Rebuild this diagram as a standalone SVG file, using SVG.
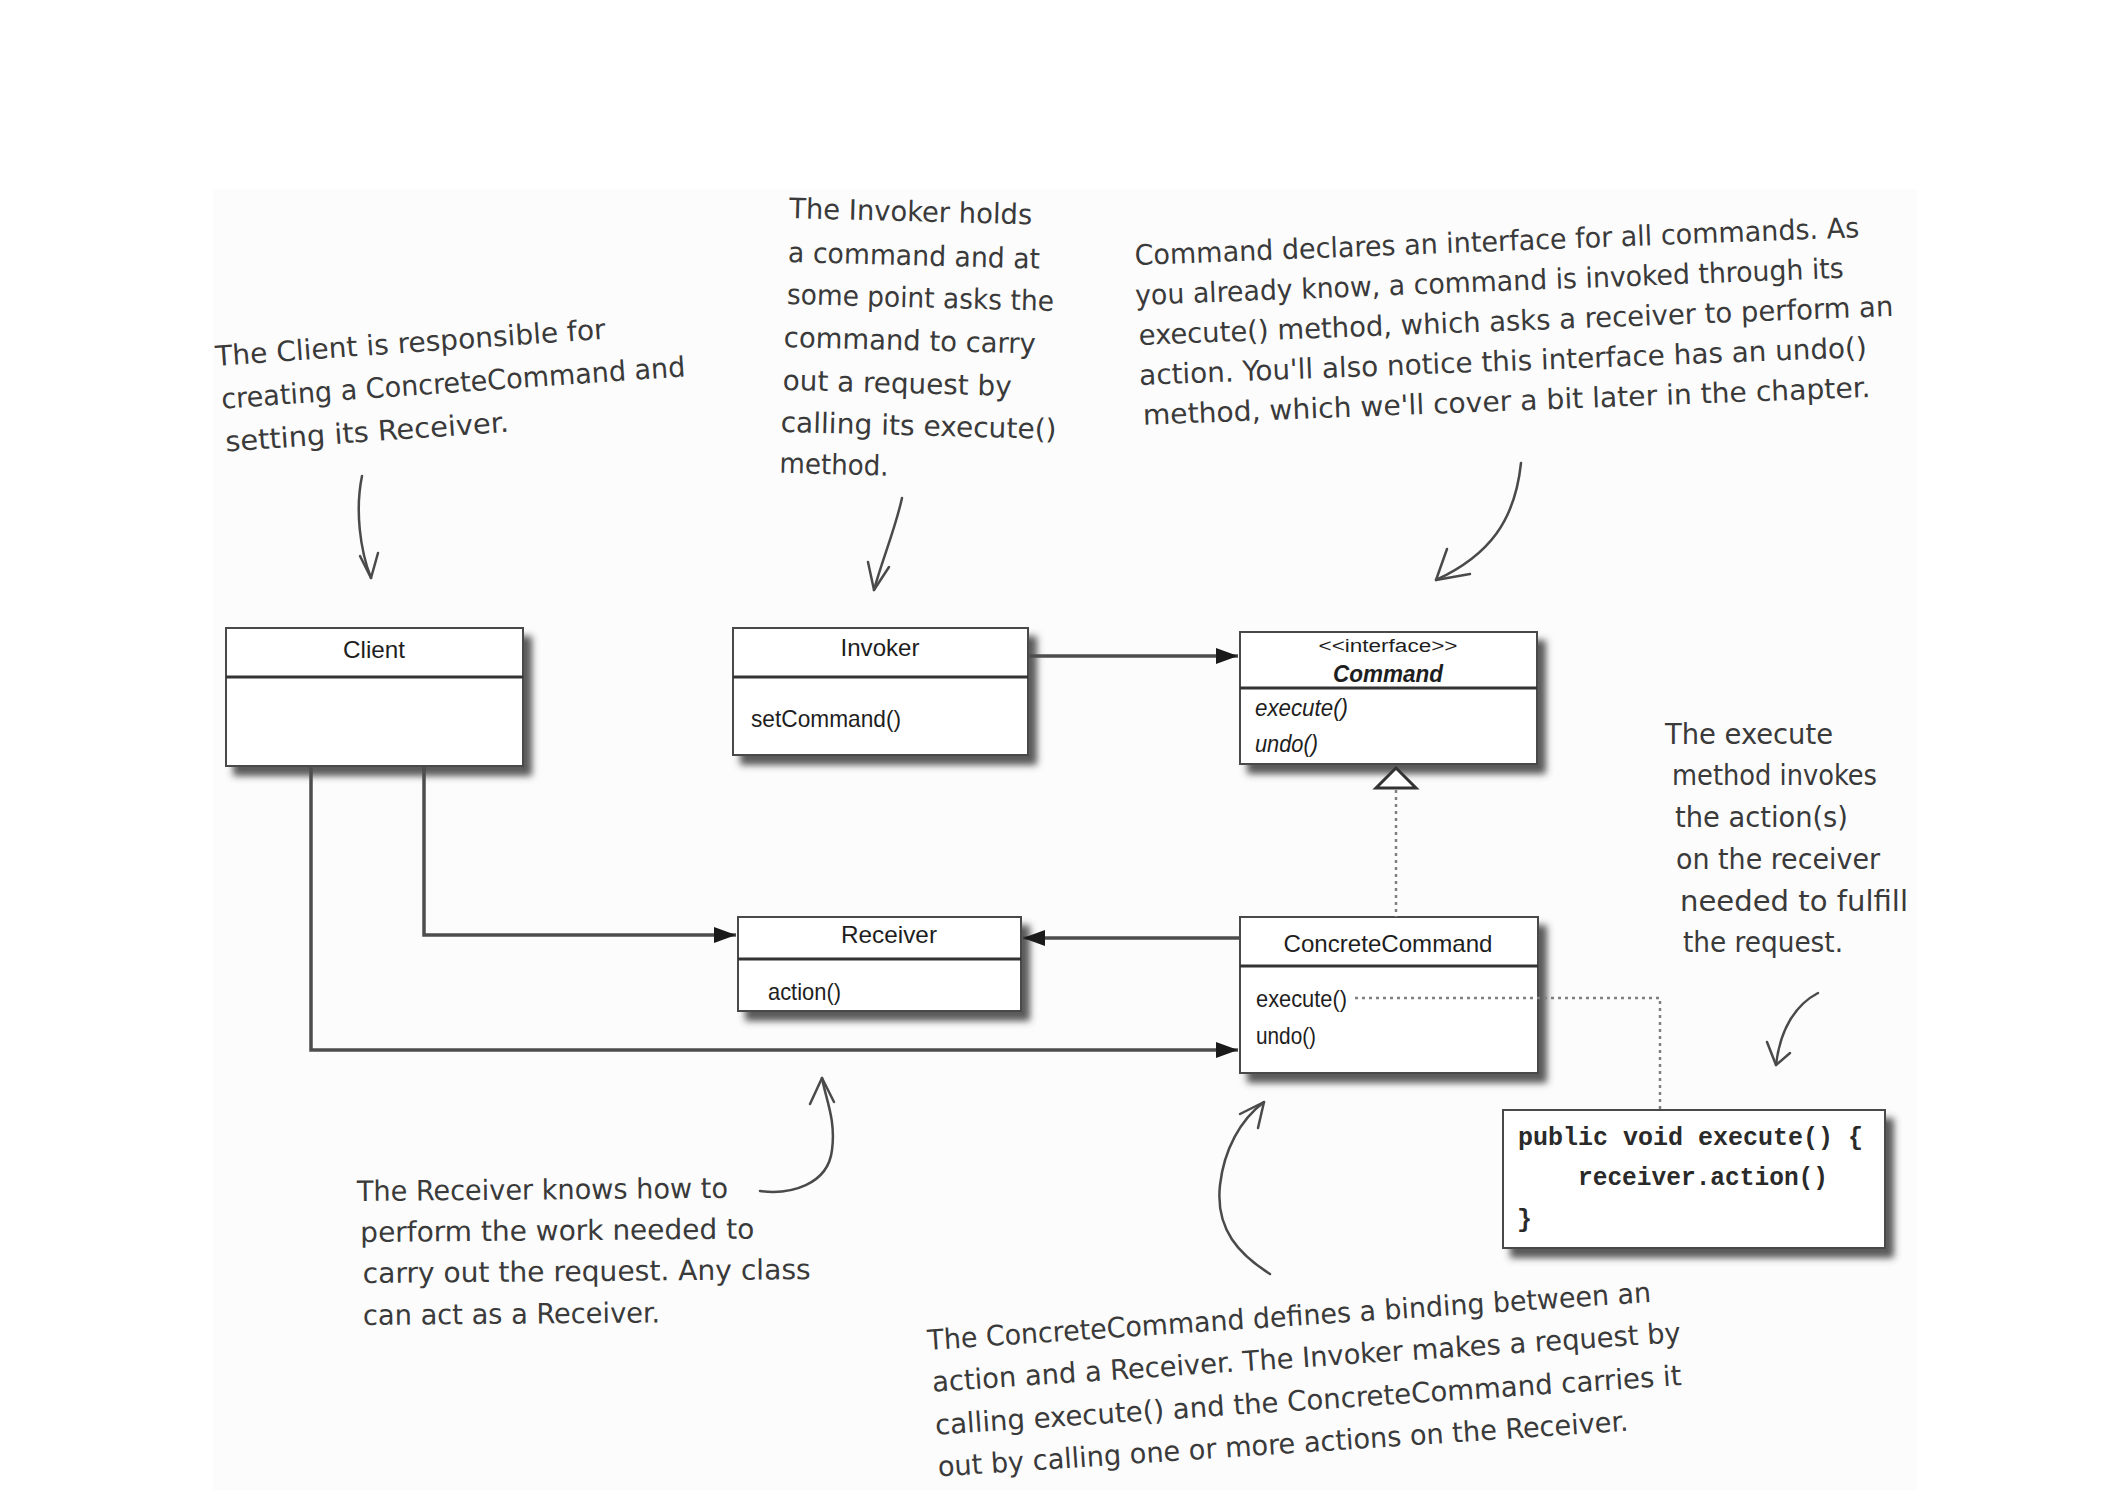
<svg xmlns="http://www.w3.org/2000/svg" width="2114" height="1490" viewBox="0 0 2114 1490">
  <defs>
    <style>
      .frame { fill: #ffffff; stroke: #4a4a4a; stroke-width: 2; }
      .divider { stroke: #333333; stroke-width: 3; }
      .cls { font-family: "Liberation Sans Narrow", "Liberation Sans", Arial, sans-serif; font-size: 24px; fill: #1e1e1e; }
      .title { text-anchor: middle; }
      .stereo { font-size: 18px; }
      .code { font-family: "Liberation Mono", "Courier New", monospace; font-size: 25px; font-weight: bold; fill: #2a2a2a; }
      .note { font-family: "Liberation Sans Narrow", "DejaVu Sans Condensed", "Liberation Sans", sans-serif; font-size: 28px; fill: #3a3a3a; }
      .ink { fill: none; stroke: #4a4a4a; stroke-width: 2.5; stroke-linecap: round; stroke-linejoin: round; }
      .wire { fill: none; stroke: #4d4d4d; stroke-width: 3.5; }
      .dots { fill: none; stroke: #808080; stroke-width: 2.5; stroke-dasharray: 3 4; }
    </style>
    <filter id="shadow" x="-10%" y="-10%" width="130%" height="140%">
      <feGaussianBlur in="SourceAlpha" stdDeviation="3.5"/>
      <feOffset dx="8" dy="9" result="blurred"/>
      <feFlood flood-color="#3c3c3c" flood-opacity="0.85"/>
      <feComposite in2="blurred" operator="in"/>
      <feMerge>
        <feMergeNode/>
        <feMergeNode in="SourceGraphic"/>
      </feMerge>
    </filter>
    <marker id="head" viewBox="0 0 22 16" refX="22" refY="8" markerWidth="22" markerHeight="16" markerUnits="userSpaceOnUse" orient="auto">
      <path d="M0,0 L22,8 L0,16 z" fill="#1a1a1a"/>
    </marker>
  </defs>

  <!-- page -->
  <rect x="0" y="0" width="2114" height="1490" fill="#ffffff"/>
  <rect x="213" y="189" width="1704" height="1301" fill="#fcfcfc"/>

  <!-- class boxes -->
  <g id="client">
    <rect class="frame" x="226" y="628" width="297" height="138" filter="url(#shadow)"/>
    <line class="divider" x1="226" y1="677" x2="523" y2="677"/>
    <text class="cls title" x="374" y="658" textLength="62" lengthAdjust="spacingAndGlyphs">Client</text>
  </g>

  <g id="invoker">
    <rect class="frame" x="733" y="628" width="295" height="127" filter="url(#shadow)"/>
    <line class="divider" x1="733" y1="677" x2="1028" y2="677"/>
    <text class="cls title" x="880" y="656" textLength="79" lengthAdjust="spacingAndGlyphs">Invoker</text>
    <text class="cls" x="751" y="727" textLength="150" lengthAdjust="spacingAndGlyphs">setCommand()</text>
  </g>

  <g id="command">
    <rect class="frame" x="1240" y="632" width="297" height="132" filter="url(#shadow)"/>
    <line class="divider" x1="1240" y1="688" x2="1537" y2="688"/>
    <text class="cls title stereo" x="1388" y="652" textLength="139" lengthAdjust="spacingAndGlyphs">&lt;&lt;interface&gt;&gt;</text>
    <text class="cls title" x="1388" y="682" font-weight="bold" font-style="italic" textLength="110" lengthAdjust="spacingAndGlyphs">Command</text>
    <text class="cls" x="1255" y="716" font-style="italic" textLength="93" lengthAdjust="spacingAndGlyphs">execute()</text>
    <text class="cls" x="1255" y="752" font-style="italic" textLength="63" lengthAdjust="spacingAndGlyphs">undo()</text>
  </g>

  <g id="receiver">
    <rect class="frame" x="738" y="917" width="283" height="94" filter="url(#shadow)"/>
    <line class="divider" x1="738" y1="959" x2="1021" y2="959"/>
    <text class="cls title" x="889" y="943" textLength="96" lengthAdjust="spacingAndGlyphs">Receiver</text>
    <text class="cls" x="768" y="1000" textLength="73" lengthAdjust="spacingAndGlyphs">action()</text>
  </g>

  <g id="concrete-command">
    <rect class="frame" x="1240" y="917" width="298" height="156" filter="url(#shadow)"/>
    <line class="divider" x1="1240" y1="966" x2="1538" y2="966"/>
    <text class="cls title" x="1388" y="952" textLength="209" lengthAdjust="spacingAndGlyphs">ConcreteCommand</text>
    <text class="cls" x="1256" y="1007" textLength="91" lengthAdjust="spacingAndGlyphs">execute()</text>
    <text class="cls" x="1256" y="1044" textLength="60" lengthAdjust="spacingAndGlyphs">undo()</text>
  </g>

  <g id="execute-code">
    <rect class="frame" x="1503" y="1110" width="382" height="138" filter="url(#shadow)"/>
    <text class="code" x="1518" y="1145" textLength="345" lengthAdjust="spacingAndGlyphs">public void execute() {</text>
    <text class="code" x="1578" y="1185" textLength="250" lengthAdjust="spacingAndGlyphs">receiver.action()</text>
    <text class="code" x="1517" y="1227">}</text>
  </g>

  <!-- relationships -->
  <g id="connectors">
    <path class="wire" d="M1028,656 H1238" marker-end="url(#head)"/>
    <path class="wire" d="M424,766 V935 H736" marker-end="url(#head)"/>
    <path class="wire" d="M1240,938 H1023" marker-end="url(#head)"/>
    <path class="wire" d="M311,766 V1050 H1238" marker-end="url(#head)"/>
    <path class="dots" d="M1396,790 V917"/>
    <polygon points="1396,768 1376,788 1416,788" fill="#ffffff" stroke="#333333" stroke-width="3"/>
    <path class="dots" d="M1355,998 H1660 V1110"/>
  </g>

  <!-- handwritten notes -->
  <g id="note-client">
    <g transform="translate(216,366) rotate(-4)">
      <text class="note" x="0" y="0" textLength="391" lengthAdjust="spacingAndGlyphs">The Client is responsible for</text>
      <text class="note" x="3" y="43" textLength="465" lengthAdjust="spacingAndGlyphs">creating a ConcreteCommand and</text>
      <text class="note" x="4" y="86" textLength="284" lengthAdjust="spacingAndGlyphs">setting its Receiver.</text>
    </g>
    <path class="ink" d="M362,476 C355,510 360,550 371,578"/>
    <path class="ink" d="M360,556 L371,578 L378,553"/>
  </g>

  <g id="note-invoker">
    <g transform="translate(789,218) rotate(1.5)">
      <text class="note" x="0" y="0" textLength="243" lengthAdjust="spacingAndGlyphs">The Invoker holds</text>
      <text class="note" x="0" y="44" textLength="252" lengthAdjust="spacingAndGlyphs">a command and at</text>
      <text class="note" x="0" y="86" textLength="267" lengthAdjust="spacingAndGlyphs">some point asks the</text>
      <text class="note" x="-2" y="129" textLength="252" lengthAdjust="spacingAndGlyphs">command to carry</text>
      <text class="note" x="-2" y="172" textLength="229" lengthAdjust="spacingAndGlyphs">out a request by</text>
      <text class="note" x="-3" y="214" textLength="276" lengthAdjust="spacingAndGlyphs">calling its execute()</text>
      <text class="note" x="-3" y="255" textLength="109" lengthAdjust="spacingAndGlyphs">method.</text>
    </g>
    <path class="ink" d="M902,498 C895,530 882,560 874,590"/>
    <path class="ink" d="M868,562 L874,590 L889,567"/>
  </g>

  <g id="note-command">
    <g transform="translate(1135,265) rotate(-2.2)">
      <text class="note" x="0" y="0" textLength="725" lengthAdjust="spacingAndGlyphs">Command declares an interface for all commands. As</text>
      <text class="note" x="-1" y="40" textLength="709" lengthAdjust="spacingAndGlyphs">you already know, a command is invoked through its</text>
      <text class="note" x="1" y="80" textLength="755" lengthAdjust="spacingAndGlyphs">execute() method, which asks a receiver to perform an</text>
      <text class="note" x="0" y="120" textLength="728" lengthAdjust="spacingAndGlyphs">action. You'll also notice this interface has an undo()</text>
      <text class="note" x="2" y="160" textLength="728" lengthAdjust="spacingAndGlyphs">method, which we'll cover a bit later in the chapter.</text>
    </g>
    <path class="ink" d="M1521,463 C1515,520 1490,555 1436,580"/>
    <path class="ink" d="M1447,549 L1436,580 L1470,574"/>
  </g>

  <g id="note-execute">
    <text class="note" x="1665" y="744" textLength="168" lengthAdjust="spacingAndGlyphs">The execute</text>
    <text class="note" x="1672" y="785" textLength="205" lengthAdjust="spacingAndGlyphs">method invokes</text>
    <text class="note" x="1675" y="827" textLength="173" lengthAdjust="spacingAndGlyphs">the action(s)</text>
    <text class="note" x="1676" y="869" textLength="204" lengthAdjust="spacingAndGlyphs">on the receiver</text>
    <text class="note" x="1680" y="911" textLength="228" lengthAdjust="spacingAndGlyphs">needed to fulfill</text>
    <text class="note" x="1683" y="952" textLength="160" lengthAdjust="spacingAndGlyphs">the request.</text>
    <path class="ink" d="M1818,993 C1795,1005 1780,1030 1776,1065"/>
    <path class="ink" d="M1767,1042 L1776,1065 L1790,1053"/>
  </g>

  <g id="note-receiver">
    <g transform="translate(357,1201) rotate(-0.5)">
      <text class="note" x="0" y="0" textLength="371" lengthAdjust="spacingAndGlyphs">The Receiver knows how to</text>
      <text class="note" x="3" y="41" textLength="394" lengthAdjust="spacingAndGlyphs">perform the work needed to</text>
      <text class="note" x="5" y="82" textLength="448" lengthAdjust="spacingAndGlyphs">carry out the request. Any class</text>
      <text class="note" x="5" y="124" textLength="297" lengthAdjust="spacingAndGlyphs">can act as a Receiver.</text>
    </g>
    <path class="ink" d="M760,1191 C790,1195 828,1185 832,1150 C836,1120 826,1100 822,1078"/>
    <path class="ink" d="M810,1104 L822,1078 L834,1102"/>
  </g>

  <g id="note-concrete">
    <g transform="translate(928,1350) rotate(-3.8)">
      <text class="note" x="0" y="0" textLength="725" lengthAdjust="spacingAndGlyphs">The ConcreteCommand defines a binding between an</text>
      <text class="note" x="2" y="42" textLength="750" lengthAdjust="spacingAndGlyphs">action and a Receiver. The Invoker makes a request by</text>
      <text class="note" x="2" y="85" textLength="748" lengthAdjust="spacingAndGlyphs">calling execute() and the ConcreteCommand carries it</text>
      <text class="note" x="2" y="127" textLength="692" lengthAdjust="spacingAndGlyphs">out by calling one or more actions on the Receiver.</text>
    </g>
    <path class="ink" d="M1270,1274 C1240,1255 1215,1230 1220,1185 C1224,1150 1240,1120 1264,1102"/>
    <path class="ink" d="M1240,1114 L1264,1102 L1258,1128"/>
  </g>
</svg>
